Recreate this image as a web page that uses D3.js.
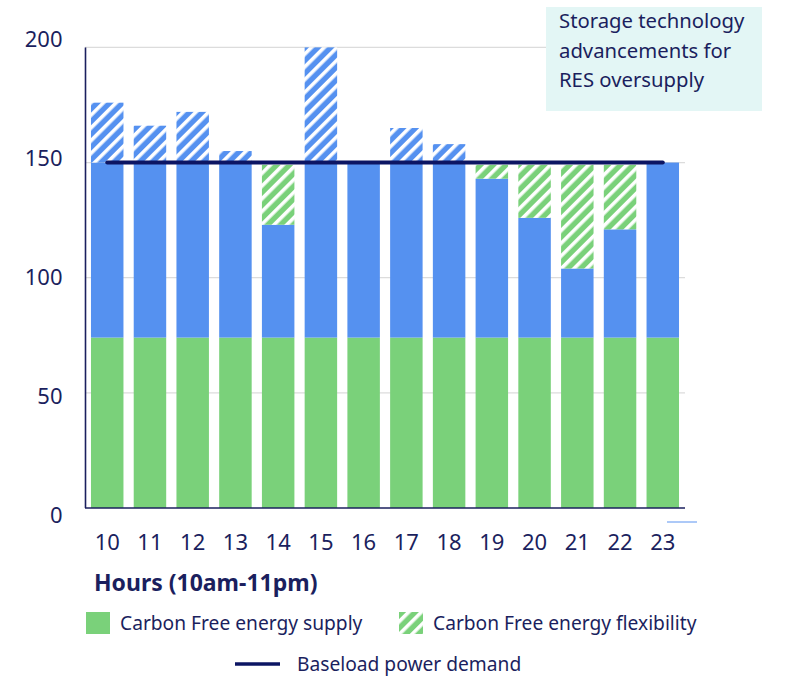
<!DOCTYPE html>
<html>
<head>
<meta charset="utf-8">
<script src="https://cdn.jsdelivr.net/npm/d3@7"></script>
<style>
  html, body { margin: 0; padding: 0; background: #fff; }
  svg { display: block; font-family: "Noto Sans", "Open Sans", sans-serif; }
</style>
</head>
<body>
<div id="chart"></div>
<script>
// Chart data
const hours = ['10', '11', '12', '13', '14', '15', '16', '17', '18', '19', '20', '21', '22', '23'];
const cfSupply    = [74, 74, 74, 74, 74, 74, 74, 74, 74, 74, 74, 74, 74, 74];
const resSupply   = [76, 76, 76, 76, 49, 76, 76, 76, 76, 69, 52, 30, 47, 76];
const flexibility = [0, 0, 0, 0, 26, 0, 0, 0, 0, 6, 23, 45, 28, 0];
const oversupply  = [26, 16, 22, 5, 0, 50, 0, 15, 8, 0, 0, 0, 0, 0];
const baseloadDemand = 150;
const yTicks = [0, 50, 100, 150, 200];
const noteLines = ['Storage technology', 'advancements for', 'RES oversupply'];

const W = 787, H = 683;
const navy = '#1b1f5e';
const green = '#7ad17a';
const blue = '#5591f0';
const lineColor = '#0c1563';

const svg = d3.select('#chart').append('svg')
  .attr('width', W)
  .attr('height', H);

// Hatch patterns
const defs = svg.append('defs');
function addHatch(id, color) {
  const p = defs.append('pattern')
    .attr('id', id)
    .attr('patternUnits', 'userSpaceOnUse')
    .attr('width', 9)
    .attr('height', 9)
    .attr('patternTransform', 'rotate(45)');
  p.append('rect').attr('width', 9).attr('height', 9).attr('fill', color);
  p.append('rect').attr('x', 0).attr('width', 3.6).attr('height', 9).attr('fill', '#fff');
}
addHatch('hatch-green', green);
addHatch('hatch-blue', blue);

// Scales
const x = d3.scaleBand()
  .domain(hours)
  .range([85, 685])
  .paddingInner(0.24)
  .paddingOuter(0.14);

const y = d3.scaleLinear()
  .domain([0, 200])
  .range([508, 47.4]);

// tick labels sit slightly spread out compared with the gridlines
const yLabel = d3.scaleLinear()
  .domain([0, 200])
  .range([515, 39]);

// Gridlines
svg.append('g')
  .selectAll('line')
  .data(yTicks.filter(d => d > 0))
  .enter()
  .append('line')
  .attr('x1', 85)
  .attr('x2', 685)
  .attr('y1', d => y(d))
  .attr('y2', d => y(d))
  .style('stroke', '#dcdcdc')
  .style('stroke-width', 1.2);

// Stacked bars
const rows = hours.map((h, i) => ({
  hour: h,
  cf: cfSupply[i],
  res: resSupply[i],
  flex: flexibility[i],
  over: oversupply[i]
}));

const stack = d3.stack().keys(['cf', 'res', 'flex', 'over']);
const series = stack(rows);
const fills = {
  cf: green,
  res: blue,
  flex: 'url(#hatch-green)',
  over: 'url(#hatch-blue)'
};

svg.append('g')
  .selectAll('g')
  .data(series)
  .enter()
  .append('g')
  .attr('fill', d => fills[d.key])
  .selectAll('rect')
  .data(d => d.filter(s => s[1] > s[0]))
  .enter()
  .append('rect')
  .attr('x', d => x(d.data.hour))
  .attr('y', d => y(d[1]))
  .attr('width', x.bandwidth())
  .attr('height', d => y(d[0]) - y(d[1]));

// Baseload demand line
svg.append('line')
  .attr('x1', x(hours[0]) + x.bandwidth() / 2)
  .attr('x2', x(hours[hours.length - 1]) + x.bandwidth() / 2)
  .attr('y1', y(baseloadDemand))
  .attr('y2', y(baseloadDemand))
  .style('stroke', lineColor)
  .style('stroke-width', 4)
  .style('stroke-linecap', 'round');

// Axis lines
svg.append('line')
  .attr('x1', 85.5).attr('x2', 85.5)
  .attr('y1', y(200)).attr('y2', y(0))
  .style('stroke', navy)
  .style('stroke-width', 1.6);
svg.append('line')
  .attr('x1', 85).attr('x2', 685)
  .attr('y1', y(0)).attr('y2', y(0))
  .style('stroke', navy)
  .style('stroke-width', 1.6);

// stray short line under the axis end
svg.append('line')
  .attr('x1', 667).attr('x2', 697)
  .attr('y1', 522).attr('y2', 522)
  .style('stroke', '#5b93f0')
  .style('stroke-width', 1);

// Y tick labels
svg.append('g')
  .selectAll('text')
  .data(yTicks)
  .enter()
  .append('text')
  .attr('x', 62.5)
  .attr('y', d => yLabel(d))
  .attr('dy', '0.35em')
  .attr('text-anchor', 'end')
  .style('font-size', '22px')
  .style('fill', navy)
  .text(d => d);

// X tick labels
svg.append('g')
  .selectAll('text')
  .data(hours)
  .enter()
  .append('text')
  .attr('x', d => x(d) + x.bandwidth() / 2)
  .attr('y', 542)
  .attr('dy', '0.35em')
  .attr('text-anchor', 'middle')
  .style('font-size', '22px')
  .style('fill', navy)
  .text(d => d);

// X axis title
svg.append('text')
  .attr('x', 94)
  .attr('y', 583)
  .attr('dy', '0.35em')
  .style('font-size', '23px')
  .style('font-weight', 'bold')
  .style('fill', navy)
  .text('Hours (10am-11pm)');

// Legend
const legend = svg.append('g').style('font-size', '19.2px').style('fill', navy);
legend.append('rect')
  .attr('x', 86).attr('y', 612)
  .attr('width', 24).attr('height', 22)
  .attr('fill', green);
legend.append('text')
  .attr('x', 120).attr('y', 623).attr('dy', '0.35em')
  .text('Carbon Free energy supply');
legend.append('rect')
  .attr('x', 399).attr('y', 612)
  .attr('width', 24).attr('height', 22)
  .attr('fill', 'url(#hatch-green)');
legend.append('text')
  .attr('x', 433).attr('y', 623).attr('dy', '0.35em')
  .text('Carbon Free energy flexibility');
legend.append('line')
  .attr('x1', 235).attr('x2', 280)
  .attr('y1', 664).attr('y2', 664)
  .style('stroke', lineColor)
  .style('stroke-width', 3.5);
legend.append('text')
  .attr('x', 297).attr('y', 664).attr('dy', '0.35em')
  .text('Baseload power demand');

// Annotation box
const note = svg.append('g');
note.append('rect')
  .attr('x', 546).attr('y', 7)
  .attr('width', 216).attr('height', 104)
  .attr('fill', '#e3f6f5');
note.selectAll('text')
  .data(noteLines)
  .enter()
  .append('text')
  .attr('x', 559)
  .attr('y', (d, i) => 21 + i * 29.5)
  .attr('dy', '0.35em')
  .style('font-size', '20.3px')
  .style('fill', navy)
  .text(d => d);
</script>
</body>
</html>
